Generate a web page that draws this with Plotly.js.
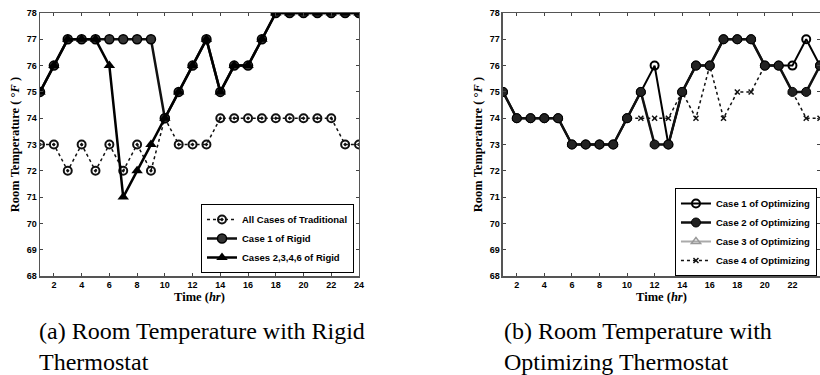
<!DOCTYPE html>
<html>
<head>
<meta charset="utf-8">
<script src="https://cdn.plot.ly/plotly-3.0.1.min.js"></script>
<style>html,body{margin:0;padding:0;background:#fff;}#chart{width:820px;height:375px;}</style>
</head>
<body>
<div id="chart"></div>
<script>
// ---- data ----
const hours = [1,2,3,4,5,6,7,8,9,10,11,12,13,14,15,16,17,18,19,20,21,22,23,24];
const traditional = [73,73,72,73,72,73,72,73,72,74,73,73,73,74,74,74,74,74,74,74,74,74,73,73];
const rigidCase1  = [75,76,77,77,77,77,77,77,77,74,75,76,77,75,76,76,77,78,78,78,78,78,78,78];
const rigidCases2346 = [75,76,77,77,77,76,71,72,73,74,75,76,77,75,76,76,77,78,78,78,78,78,78,78];
const optCase1 = [75,74,74,74,74,73,73,73,73,74,75,76,73,75,76,76,77,77,77,76,76,76,77,76];
const optCase2 = [75,74,74,74,74,73,73,73,73,74,75,73,73,75,76,76,77,77,77,76,76,75,75,76];
const optCase3 = [75,74,74,74,74,73,73,73,73,74,75,73,73,75,76,76,77,77,77,76,76,75,75,76];
const optCase4 = [75,74,74,74,74,73,73,73,73,74,74,74,74,75,74,76,74,75,75,76,76,75,74,74];
const xTicks = [2,4,6,8,10,12,14,16,18,20,22,24];
const yTicks = [68,69,70,71,72,73,74,75,76,77,78];
const namesLeft = ['All Cases of Traditional','Case 1 of Rigid','Cases 2,3,4,6 of Rigid'];
const namesRight = ['Case 1 of Optimizing','Case 2 of Optimizing','Case 3 of Optimizing','Case 4 of Optimizing'];
const captionA = '(a) Room Temperature with Rigid<br>Thermostat';
const captionB = '(b) Room Temperature with<br>Optimizing Thermostat';

const traces = [
  {x: hours, y: traditional, name: namesLeft[0], xaxis:'x', yaxis:'y', mode:'lines+markers', legend:'legend',
   line:{color:'#111', width:1.5, dash:'dot'},
   marker:{symbol:'circle-open-dot', size:8, color:'#111', line:{width:2, color:'#111'}}},
  {x: hours, y: rigidCase1, name: namesLeft[1], xaxis:'x', yaxis:'y', mode:'lines+markers', legend:'legend',
   line:{color:'#111', width:2.5},
   marker:{symbol:'circle', size:9, color:'#333', line:{width:1.5, color:'#000'}}},
  {x: hours, y: rigidCases2346, name: namesLeft[2], xaxis:'x', yaxis:'y', mode:'lines+markers', legend:'legend',
   line:{color:'#000', width:2.5},
   marker:{symbol:'triangle-up', size:10, color:'#000'}},
  {x: hours, y: optCase3, name: namesRight[2], xaxis:'x2', yaxis:'y2', mode:'lines+markers', legend:'legend2', legendrank:3,
   line:{color:'#aaa', width:2},
   marker:{symbol:'triangle-up-open', size:8, color:'#999', line:{width:1.5}}},
  {x: hours, y: optCase1, name: namesRight[0], xaxis:'x2', yaxis:'y2', mode:'lines+markers', legend:'legend2', legendrank:1,
   line:{color:'#000', width:2},
   marker:{symbol:'circle-open', size:8, color:'#000', line:{width:2}}},
  {x: hours, y: optCase4, name: namesRight[3], xaxis:'x2', yaxis:'y2', mode:'lines+markers', legend:'legend2', legendrank:4,
   line:{color:'#111', width:1.5, dash:'dot'},
   marker:{symbol:'x-thin-open', size:5, color:'#111', line:{width:1.5}}},
  {x: hours, y: optCase2, name: namesRight[1], xaxis:'x2', yaxis:'y2', mode:'lines+markers', legend:'legend2', legendrank:2,
   line:{color:'#111', width:2.5},
   marker:{symbol:'circle', size:9, color:'#222', line:{width:1, color:'#000'}}}
];

const tickFont = {family:'Liberation Sans, Arial, sans-serif', size:9, color:'#000', weight:'bold'};
const titleFont = {family:'Liberation Serif, Times New Roman, serif', size:12.5, color:'#000', weight:'bold'};
function xAx(dom, anchor){
  return {domain:dom, anchor:anchor, range:[1,24], tickvals:xTicks, ticktext:xTicks.map(String),
    ticks:'inside', ticklen:3, tickcolor:'#444', showline:true, linecolor:'#555', linewidth:1.5, mirror:'allticks',
    showgrid:false, zeroline:false, tickfont:tickFont,
    title:{text:'Time (<i>hr</i>)', font:titleFont, standoff:2}};
}
function yAx(anchor){
  return {domain:[0.264,0.9653], anchor:anchor, range:[68,78], tickvals:yTicks, ticktext:yTicks.map(String),
    ticks:'inside', ticklen:3, tickcolor:'#444', showline:true, linecolor:'#555', linewidth:1.5, mirror:'allticks',
    showgrid:false, zeroline:false, tickfont:tickFont,
    title:{text:'Room Temperature ( °<i>F</i> )', font:titleFont, standoff:4}};
}
const legFont = {family:'Liberation Sans, Arial, sans-serif', size:9.5, color:'#000', weight:'bold'};
const layout = {
  width:820, height:375, margin:{l:0, r:0, t:0, b:0},
  paper_bgcolor:'#fff', plot_bgcolor:'#fff', showlegend:true,
  xaxis: xAx([0.0488,0.4378],'y'),
  yaxis: yAx('x'),
  xaxis2: xAx([0.6134,1.0],'y2'),
  yaxis2: yAx('x2'),
  legend:{x:0.4317, xanchor:'right', y:0.272, yanchor:'bottom', bgcolor:'#fff', bordercolor:'#000', borderwidth:1,
    font:legFont, tracegroupgap:0, itemwidth:30},
  legend2:{x:0.9963, xanchor:'right', y:0.264, yanchor:'bottom', bgcolor:'#fff', bordercolor:'#000', borderwidth:1,
    font:legFont, tracegroupgap:0, itemwidth:30, traceorder:'normal'},
  annotations:[
    {text:captionA, xref:'paper', yref:'paper', x:37/820, y:(375-316)/375, xanchor:'left', yanchor:'top', align:'left', showarrow:false,
     font:{family:'Liberation Serif, Times New Roman, serif', size:24, color:'#000'}},
    {text:captionB, xref:'paper', yref:'paper', x:502/820, y:(375-316)/375, xanchor:'left', yanchor:'top', align:'left', showarrow:false,
     font:{family:'Liberation Serif, Times New Roman, serif', size:24, color:'#000'}}
  ]
};
Plotly.newPlot('chart', traces, layout, {staticPlot:true, displayModeBar:false});
</script>
</body>
</html>
